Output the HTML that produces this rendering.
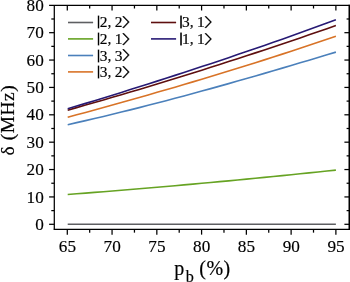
<!DOCTYPE html><html><head><meta charset="utf-8"><style>html,body{margin:0;padding:0;background:#fff;overflow:hidden}body{width:350px;height:282px;position:relative}</style></head><body><svg width="350" height="282" viewBox="0 0 350 282" style="position:absolute;left:0;top:0">
<rect width="350" height="282" fill="#fff"/>
<path d="M67.70,224.30 L76.64,224.30 L85.58,224.30 L94.52,224.30 L103.46,224.30 L112.40,224.30 L121.34,224.30 L130.28,224.30 L139.22,224.30 L148.16,224.30 L157.10,224.30 L166.04,224.30 L174.98,224.30 L183.92,224.30 L192.86,224.30 L201.79,224.30 L210.73,224.30 L219.67,224.30 L228.61,224.30 L237.55,224.30 L246.49,224.30 L255.43,224.30 L264.37,224.30 L273.31,224.30 L282.25,224.30 L291.19,224.30 L300.13,224.30 L309.07,224.30 L318.01,224.30 L326.95,224.30 L335.89,224.30" fill="none" stroke="#5e5f62" stroke-width="1.6"/>
<path d="M67.70,194.46 L76.64,193.78 L85.58,193.10 L94.52,192.40 L103.46,191.69 L112.40,190.98 L121.34,190.25 L130.28,189.52 L139.22,188.78 L148.16,188.02 L157.10,187.26 L166.04,186.49 L174.98,185.71 L183.92,184.92 L192.86,184.12 L201.79,183.31 L210.73,182.49 L219.67,181.67 L228.61,180.83 L237.55,179.99 L246.49,179.13 L255.43,178.27 L264.37,177.40 L273.31,176.51 L282.25,175.62 L291.19,174.73 L300.13,173.82 L309.07,172.90 L318.01,171.98 L326.95,171.04 L335.89,170.10" fill="none" stroke="#66a323" stroke-width="1.6"/>
<path d="M67.70,124.66 L76.64,122.65 L85.58,120.61 L94.52,118.53 L103.46,116.41 L112.40,114.26 L121.34,112.08 L130.28,109.86 L139.22,107.61 L148.16,105.34 L157.10,103.03 L166.04,100.69 L174.98,98.33 L183.92,95.94 L192.86,93.52 L201.79,91.08 L210.73,88.61 L219.67,86.12 L228.61,83.61 L237.55,81.08 L246.49,78.53 L255.43,75.96 L264.37,73.37 L273.31,70.76 L282.25,68.14 L291.19,65.50 L300.13,62.85 L309.07,60.18 L318.01,57.50 L326.95,54.81 L335.89,52.11" fill="none" stroke="#4b80bb" stroke-width="1.6"/>
<path d="M67.70,117.26 L76.64,114.84 L85.58,112.41 L94.52,109.96 L103.46,107.49 L112.40,105.01 L121.34,102.52 L130.28,100.00 L139.22,97.47 L148.16,94.92 L157.10,92.35 L166.04,89.77 L174.98,87.16 L183.92,84.53 L192.86,81.88 L201.79,79.21 L210.73,76.52 L219.67,73.81 L228.61,71.07 L237.55,68.31 L246.49,65.52 L255.43,62.72 L264.37,59.88 L273.31,57.02 L282.25,54.13 L291.19,51.22 L300.13,48.28 L309.07,45.31 L318.01,42.32 L326.95,39.29 L335.89,36.23" fill="none" stroke="#d87327" stroke-width="1.6"/>
<path d="M67.70,110.15 L76.64,107.62 L85.58,105.08 L94.52,102.52 L103.46,99.94 L112.40,97.33 L121.34,94.71 L130.28,92.06 L139.22,89.40 L148.16,86.71 L157.10,84.00 L166.04,81.28 L174.98,78.53 L183.92,75.76 L192.86,72.97 L201.79,70.16 L210.73,67.33 L219.67,64.48 L228.61,61.61 L237.55,58.72 L246.49,55.81 L255.43,52.87 L264.37,49.92 L273.31,46.95 L282.25,43.95 L291.19,40.94 L300.13,37.90 L309.07,34.85 L318.01,31.77 L326.95,28.67 L335.89,25.56" fill="none" stroke="#5e0f0f" stroke-width="1.6"/>
<path d="M67.70,108.78 L76.64,106.09 L85.58,103.39 L94.52,100.67 L103.46,97.93 L112.40,95.18 L121.34,92.40 L130.28,89.61 L139.22,86.80 L148.16,83.98 L157.10,81.13 L166.04,78.26 L174.98,75.38 L183.92,72.47 L192.86,69.55 L201.79,66.60 L210.73,63.64 L219.67,60.65 L228.61,57.64 L237.55,54.61 L246.49,51.56 L255.43,48.49 L264.37,45.40 L273.31,42.28 L282.25,39.14 L291.19,35.98 L300.13,32.79 L309.07,29.58 L318.01,26.35 L326.95,23.09 L335.89,19.81" fill="none" stroke="#271a74" stroke-width="1.6"/>
<g stroke="#000" stroke-width="1.25" fill="none">
<path d="M49.099999999999994,5.3 H349.8"/><path d="M349.8,229.45 H53.675"/><path d="M54.3,229.45 V5.3"/><path d="M349.25,4.675 V230.075" stroke-width="1.5"/>
<path d="M49.099999999999994,224.30 H54.3"/>
<path d="M344.4,224.30 H349.2"/>
<path d="M51.3,210.61 H54.3"/>
<path d="M346.59999999999997,210.61 H349.2"/>
<path d="M49.099999999999994,196.93 H54.3"/>
<path d="M344.4,196.93 H349.2"/>
<path d="M51.3,183.24 H54.3"/>
<path d="M346.59999999999997,183.24 H349.2"/>
<path d="M49.099999999999994,169.55 H54.3"/>
<path d="M344.4,169.55 H349.2"/>
<path d="M51.3,155.86 H54.3"/>
<path d="M346.59999999999997,155.86 H349.2"/>
<path d="M49.099999999999994,142.18 H54.3"/>
<path d="M344.4,142.18 H349.2"/>
<path d="M51.3,128.49 H54.3"/>
<path d="M346.59999999999997,128.49 H349.2"/>
<path d="M49.099999999999994,114.80 H54.3"/>
<path d="M344.4,114.80 H349.2"/>
<path d="M51.3,101.11 H54.3"/>
<path d="M346.59999999999997,101.11 H349.2"/>
<path d="M49.099999999999994,87.43 H54.3"/>
<path d="M344.4,87.43 H349.2"/>
<path d="M51.3,73.74 H54.3"/>
<path d="M346.59999999999997,73.74 H349.2"/>
<path d="M49.099999999999994,60.05 H54.3"/>
<path d="M344.4,60.05 H349.2"/>
<path d="M51.3,46.36 H54.3"/>
<path d="M346.59999999999997,46.36 H349.2"/>
<path d="M49.099999999999994,32.68 H54.3"/>
<path d="M344.4,32.68 H349.2"/>
<path d="M51.3,18.99 H54.3"/>
<path d="M346.59999999999997,18.99 H349.2"/>
<path d="M67.30,229.45 V234.64999999999998"/>
<path d="M67.30,5.3 V10.5"/>
<path d="M89.68,229.45 V232.64999999999998"/>
<path d="M89.68,5.3 V8.5"/>
<path d="M112.06,229.45 V234.64999999999998"/>
<path d="M112.06,5.3 V10.5"/>
<path d="M134.45,229.45 V232.64999999999998"/>
<path d="M134.45,5.3 V8.5"/>
<path d="M156.83,229.45 V234.64999999999998"/>
<path d="M156.83,5.3 V10.5"/>
<path d="M179.21,229.45 V232.64999999999998"/>
<path d="M179.21,5.3 V8.5"/>
<path d="M201.59,229.45 V234.64999999999998"/>
<path d="M201.59,5.3 V10.5"/>
<path d="M223.98,229.45 V232.64999999999998"/>
<path d="M223.98,5.3 V8.5"/>
<path d="M246.36,229.45 V234.64999999999998"/>
<path d="M246.36,5.3 V10.5"/>
<path d="M268.74,229.45 V232.64999999999998"/>
<path d="M268.74,5.3 V8.5"/>
<path d="M291.12,229.45 V234.64999999999998"/>
<path d="M291.12,5.3 V10.5"/>
<path d="M313.51,229.45 V232.64999999999998"/>
<path d="M313.51,5.3 V8.5"/>
<path d="M335.89,229.45 V234.64999999999998"/>
<path d="M335.89,5.3 V10.5"/>
</g>
<g font-family="'Liberation Serif', serif" font-size="17.2" fill="#000" stroke="#000" stroke-width="0.15">
<text x="43.8" y="229.90" text-anchor="end">0</text>
<text x="43.8" y="202.53" text-anchor="end">10</text>
<text x="43.8" y="175.15" text-anchor="end">20</text>
<text x="43.8" y="147.78" text-anchor="end">30</text>
<text x="43.8" y="120.40" text-anchor="end">40</text>
<text x="43.8" y="93.03" text-anchor="end">50</text>
<text x="43.8" y="65.65" text-anchor="end">60</text>
<text x="43.8" y="38.28" text-anchor="end">70</text>
<text x="43.8" y="11.00" text-anchor="end">80</text>
<text x="67.40" y="251.8" text-anchor="middle">65</text>
<text x="112.16" y="251.8" text-anchor="middle">70</text>
<text x="156.93" y="251.8" text-anchor="middle">75</text>
<text x="201.69" y="251.8" text-anchor="middle">80</text>
<text x="246.46" y="251.8" text-anchor="middle">85</text>
<text x="291.23" y="251.8" text-anchor="middle">90</text>
<text x="335.99" y="251.8" text-anchor="middle">95</text>
</g>
<g font-family="'Liberation Serif', serif" font-size="15.4" fill="#000" stroke="#000" stroke-width="0.18">
<path d="M68,22.5 H93.1" stroke="#5e5f62" stroke-width="1.6" />
<text x="97.25" y="25.20" font-size="12.6" stroke-width="0.8">|</text>
<text x="99.70" y="27.20" word-spacing="-0.45">2, 2</text>
<text transform="translate(121.40,27.10) scale(1.5,1)" font-family="'Noto Sans CJK SC', sans-serif" font-size="12.9" stroke-width="0.15">〉</text>
<path d="M68,38.9 H93.1" stroke="#66a323" stroke-width="1.6" />
<text x="97.25" y="41.80" font-size="12.6" stroke-width="0.8">|</text>
<text x="99.70" y="43.80" word-spacing="-0.45">2, 1</text>
<text transform="translate(121.40,43.70) scale(1.5,1)" font-family="'Noto Sans CJK SC', sans-serif" font-size="12.9" stroke-width="0.15">〉</text>
<path d="M68,55.5 H93.1" stroke="#4b80bb" stroke-width="1.6" />
<text x="97.25" y="58.55" font-size="12.6" stroke-width="0.8">|</text>
<text x="99.70" y="60.55" word-spacing="-0.45">3, 3</text>
<text transform="translate(121.40,60.45) scale(1.5,1)" font-family="'Noto Sans CJK SC', sans-serif" font-size="12.9" stroke-width="0.15">〉</text>
<path d="M68,71.9 H93.1" stroke="#d87327" stroke-width="1.6" />
<text x="97.25" y="74.85" font-size="12.6" stroke-width="0.8">|</text>
<text x="99.70" y="76.85" word-spacing="-0.45">3, 2</text>
<text transform="translate(121.40,76.75) scale(1.5,1)" font-family="'Noto Sans CJK SC', sans-serif" font-size="12.9" stroke-width="0.15">〉</text>
<path d="M151,22.5 H176.1" stroke="#5e0f0f" stroke-width="1.6" />
<text x="179.65" y="25.20" font-size="12.6" stroke-width="0.8">|</text>
<text x="182.10" y="27.20" word-spacing="-0.45">3, 1</text>
<text transform="translate(203.80,27.10) scale(1.5,1)" font-family="'Noto Sans CJK SC', sans-serif" font-size="12.9" stroke-width="0.15">〉</text>
<path d="M151,38.9 H176.1" stroke="#271a74" stroke-width="1.6" />
<text x="179.65" y="41.80" font-size="12.6" stroke-width="0.8">|</text>
<text x="182.10" y="43.80" word-spacing="-0.45">1, 1</text>
<text transform="translate(203.80,43.70) scale(1.5,1)" font-family="'Noto Sans CJK SC', sans-serif" font-size="12.9" stroke-width="0.15">〉</text>
</g>
<g font-family="'Liberation Serif', serif" fill="#000" stroke="#000" stroke-width="0.18">
<text transform="translate(14.2,155.6) rotate(-90)" font-size="19.5">δ</text>
<text transform="translate(14.2,140.2) rotate(-90)" font-size="19.5" letter-spacing="0.45">(MHz)</text>
<text x="174.2" y="274.6" font-size="20">p<tspan font-size="16.2" dx="1.6" dy="7.3">b</tspan><tspan dy="-7.3" dx="0" letter-spacing="0.45"> (%)</tspan></text>
</g>
</svg></body></html>
